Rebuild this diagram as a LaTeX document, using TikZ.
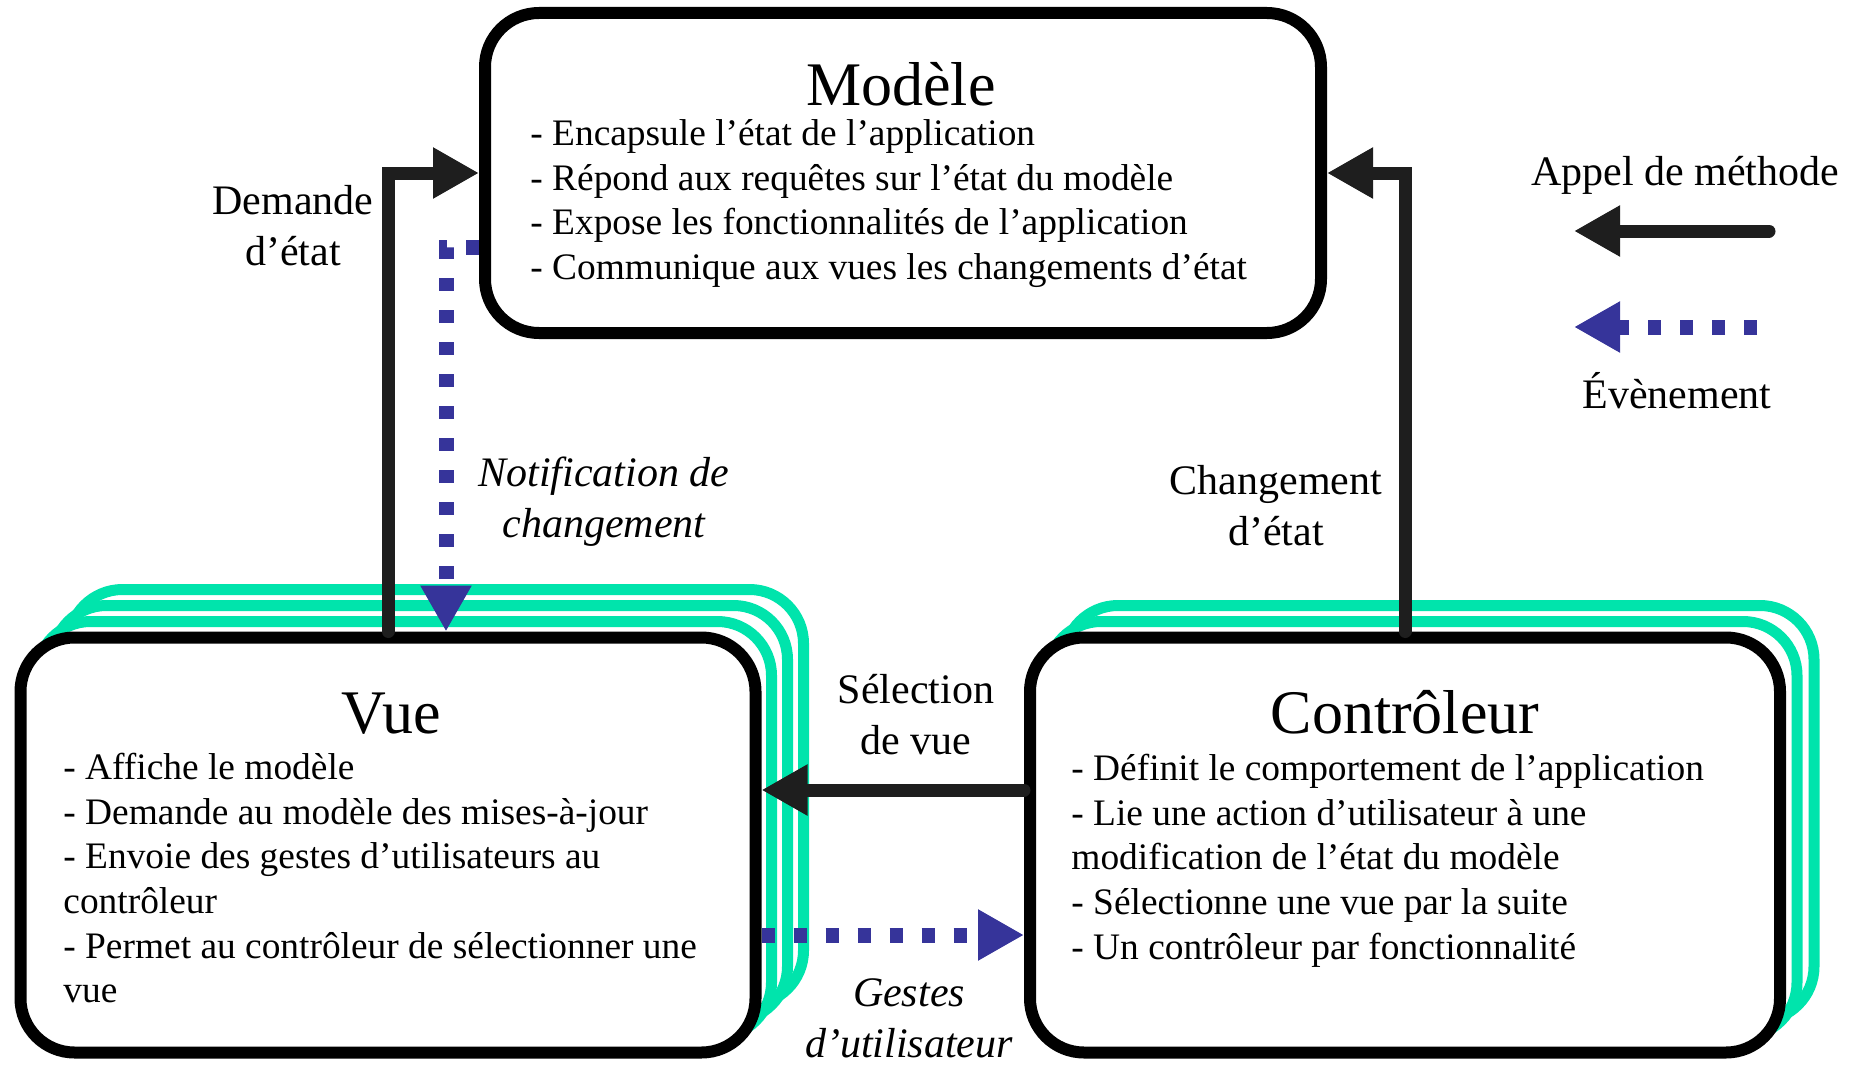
\documentclass[tikz,border=0pt]{standalone}
\usepackage{fontspec}
\setmainfont{Liberation Serif}
\usetikzlibrary{arrows.meta,calc}
\definecolor{callgray}{RGB}{30,30,30}
\definecolor{eventblue}{RGB}{54,52,154}
\definecolor{mintgreen}{RGB}{0,228,172}
\tikzset{
	box/.style={draw, line width=6pt, rounded corners=27pt, fill=white, inner sep=0pt},
	greenlayer/.style={draw=mintgreen, line width=5.5pt, rounded corners=27pt, fill=white, inner sep=0pt},
	boxtitle/.style={anchor=base, inner sep=0pt, font=\fontsize{31}{36}\selectfont},
	boxbody/.style={anchor=north west, align=left, inner sep=0pt, font=\fontsize{18.7}{22.3}\selectfont},
	lbl/.style={align=center, inner sep=0pt, font=\fontsize{21}{25.5}\selectfont},
	ilbl/.style={align=center, inner sep=0pt, font=\fontsize{21}{25.5}\selectfont\itshape},
	callarrow/.style={draw=callgray, line width=6.5pt, line cap=round, -{Triangle[length=23pt,width=24pt]}},
	eventarrow/.style={draw=eventblue, line width=7.5pt, dash pattern=on 6.5pt off 9.5pt, -{Triangle[length=23pt,width=24pt]}}
}
\begin{document}
\begin{tikzpicture}[x=0.5pt,y=-0.5pt]
		\useasboundingbox (0,0) rectangle (1858,1065);
		% les trois boites
		\node[box, minimum width=418pt, minimum height=160pt] (model) at (903,173) {};
		\node[greenlayer, minimum width=367.5pt, minimum height=207.5pt] (vueC) at (436,797) {};
		\node[greenlayer, minimum width=367.5pt, minimum height=207.5pt] (vueB) at (420,813) {};
		\node[greenlayer, minimum width=367.5pt, minimum height=207.5pt] (vueA) at (404,829) {};
		\node[box, minimum width=367.5pt, minimum height=207.5pt] (vue) at (388,845) {};
		\node[greenlayer, minimum width=375pt, minimum height=207.5pt] (ctrlB) at (1439,813) {};
		\node[greenlayer, minimum width=375pt, minimum height=207.5pt] (ctrlA) at (1422,829) {};
		\node[box, minimum width=375pt, minimum height=207.5pt] (ctrl) at (1405,845) {};
		% textes
		\node[boxtitle] (modeltitle) at (901,105) {Modèle};
		\node[boxbody] (modelbody) at (530,114) {\strut- Encapsule l’état de l’application\\- Répond aux requêtes sur l’état du modèle\\- Expose les fonctionnalités de l’application\\- Communique aux vues les changements d’état};
		\node[boxtitle] (vuetitle) at (391,733) {Vue};
		\node[boxbody] (vuebody) at (63,748) {\strut- Affiche le modèle\\- Demande au modèle des mises-à-jour\\- Envoie des gestes d’utilisateurs au\\contrôleur\\- Permet au contrôleur de sélectionner une\\vue};
		\node[boxtitle] (ctrltitle) at (1405,733) {Contrôleur};
		\node[boxbody] (ctrlbody) at (1071,749) {\strut- Définit le comportement de l’application\\- Lie une action d’utilisateur à une\\modification de l’état du modèle\\- Sélectionne une vue par la suite\\- Un contrôleur par fonctionnalité};
		% fleches
		\draw[callarrow] (vue.north) |- (model.west);
		\draw[eventarrow] ($(model.west)+(0,74)$) -| ($(vue.north)+(58,0)$);
		\draw[callarrow] (ctrl.north) |- (model.east);
		\draw[callarrow] ($(ctrl.west)+(0,-55)$) -- ($(vue.east)+(0,-55)$);
		\draw[eventarrow] ($(vue.east)+(0,90)$) -- ($(ctrl.west)+(0,90)$);
		\node[lbl] (demande) at (293,230) {\strut Demande\\\strut d’état};
		\node[ilbl] (notif) at (604,502) {\strut Notification de\\\strut changement};
		\node[lbl] (changement) at (1276,510) {\strut Changement\\\strut d’état};
		\node[lbl] (selection) at (916,719) {\strut Sélection\\\strut de vue};
		\node[ilbl] (gestes) at (909,1022) {\strut Gestes\\\strut d’utilisateur};
		% legende
		\node[lbl, anchor=base] (appel) at (1685,185) {Appel de méthode};
		\coordinate (appelA) at (1769,231);
		\coordinate (appelB) at (1574,231);
		\draw[callarrow] (appelA) -- (appelB);
		\coordinate (evtA) at (1757,327);
		\coordinate (evtB) at (1574,327);
		\draw[eventarrow] (evtA) -- (evtB);
		\node[lbl, anchor=base] (evenement) at (1677,408) {Évènement};
	\end{tikzpicture}
\end{document}
